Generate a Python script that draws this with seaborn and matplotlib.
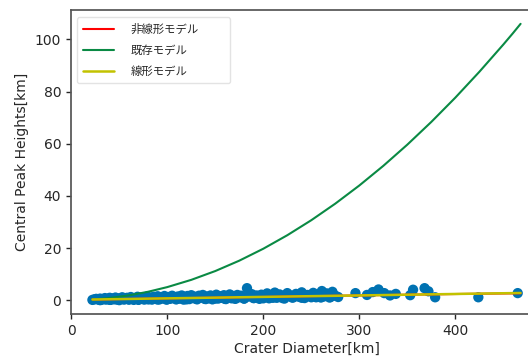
import matplotlib
matplotlib.use("Agg")
import matplotlib.pyplot as plt
import seaborn as sns
import pandas as pd

# Observed craters: diameter [km] and central peak height [km]
diameters = [22, 24, 26, 28, 30, 31, 33, 35, 36, 38, 40, 41, 43, 45, 46, 48, 50, 51, 53, 55,
             57, 58, 60, 62, 64, 65, 67, 69, 70, 72, 74, 76, 77, 79, 81, 83, 84, 86, 88, 90,
             92, 93, 95, 97, 99, 101, 103, 105, 107, 109, 111, 113, 115, 117, 119, 121, 123, 125,
             127, 129, 131, 133, 135, 137, 139, 141, 143, 145, 147, 149, 151, 153, 155, 157, 159,
             161, 163, 165, 167, 169, 171, 173, 175, 177, 180, 183, 185, 188, 190, 193, 196, 198,
             201, 204, 206, 209, 212, 214, 217, 220, 222, 225, 228, 231, 234, 237, 240, 243, 246,
             249, 252, 255, 258, 261, 263, 266, 269, 272, 275, 278,
             30, 40, 50, 60, 70, 80, 90, 100, 110, 120, 130, 140, 150, 160, 170, 180, 190, 200,
             210, 220, 230, 240, 250, 260, 270,
             296, 308, 314, 320, 326, 332, 338, 353, 356, 368, 372, 379, 424, 465]
heights = [0.1, 0.3, 0.5, 0.2, 0.6, 0.1, 0.4, 0.8, 0.2, 0.5, 0.9, 0.1, 0.6, 0.3, 1.0, 0.2, 0.7, 0.4, 1.1, 0.2,
           0.6, 0.9, 0.3, 1.2, 0.5, 0.1, 0.8, 1.3, 0.3, 0.7, 1.1, 0.2, 0.9, 1.4, 0.4, 1.0, 0.2, 1.3, 0.6, 1.5,
           0.3, 1.1, 0.7, 1.6, 0.2, 1.2, 0.5, 1.7, 0.9, 0.3, 1.4, 0.6, 1.8, 0.2, 1.1, 1.6, 0.4, 1.9,
           0.8, 1.3, 0.3, 1.7, 1.0, 2.0, 0.5, 1.4, 0.7, 1.8, 0.3, 1.2, 2.1, 0.6, 1.5, 0.9, 1.9,
           0.4, 1.3, 2.2, 0.7, 1.6, 0.5, 2.0, 1.1, 1.7, 0.6, 4.6, 1.4, 2.3, 0.8, 1.8, 0.5, 2.1,
           1.2, 2.6, 0.7, 1.6, 2.9, 0.9, 2.2, 1.4, 0.6, 2.7, 1.8, 1.0, 2.4, 1.3, 3.0, 0.8, 2.0,
           1.5, 2.8, 1.1, 2.3, 3.5, 1.4, 2.6, 1.0, 3.2, 1.7, 1.2,
           0.0, 0.1, 0.0, 0.2, 0.1, 0.3, 0.2, 0.3, 0.4, 0.3, 0.5, 0.4, 0.6, 0.5, 0.7, 0.6, 0.8, 0.7,
           0.9, 0.8, 1.0, 0.9, 1.1, 1.0, 1.2,
           2.7, 2.0, 3.1, 4.1, 2.7, 1.8, 2.4, 1.9, 4.0, 4.6, 3.4, 1.1, 1.1, 2.7]

# Fitted model curves, sampled along the diameter axis
model_d = [22, 40, 60, 80, 100, 125, 150, 175, 200, 225, 250, 275, 300, 325, 350,
           375, 400, 425, 450, 460, 468]
existing_h = [0.25, 0.82, 1.83, 3.22, 5.01, 7.79, 11.17, 15.15, 19.73, 24.91, 30.67,
              37.03, 43.98, 51.52, 59.65, 68.37, 77.68, 87.58, 98.05, 102.4, 106.0]
linear_h = [0.25, 0.35, 0.46, 0.58, 0.69, 0.83, 0.97, 1.11, 1.25, 1.39, 1.53, 1.67, 1.81,
            1.95, 2.09, 2.23, 2.37, 2.51, 2.65, 2.70, 2.75]
nonlinear_h = [0.25, 0.35, 0.46, 0.58, 0.69, 0.83, 0.97, 1.11, 1.25, 1.39, 1.53, 1.67, 1.81,
               1.95, 2.09, 2.22, 2.35, 2.46, 2.56, 2.60, 2.63]

sns.set_theme(style="ticks")
plt.rcParams["font.family"] = ["DejaVu Sans", "Noto Sans CJK JP"]

crater_df = pd.DataFrame({"D": diameters, "H": heights})
model_df = pd.DataFrame({"D": model_d, "nonlinear": nonlinear_h,
                         "existing": existing_h, "linear": linear_h})

fig = plt.figure(figsize=(5.28, 3.58), dpi=100)
ax = fig.add_axes([0.1345, 0.123, 0.892, 0.849])

sns.scatterplot(data=crater_df, x="D", y="H", ax=ax, color="#0072B2",
                s=55, edgecolor="none", linewidth=0, zorder=2)
sns.lineplot(data=model_df, x="D", y="nonlinear", ax=ax, color="#ff0000",
             linewidth=1.5, label="非線形モデル", zorder=3)
sns.lineplot(data=model_df, x="D", y="existing", ax=ax, color="#0a8a44",
             linewidth=1.5, label="既存モデル", zorder=3)
sns.lineplot(data=model_df, x="D", y="linear", ax=ax, color="#c2c200",
             linewidth=1.8, label="線形モデル", zorder=4)

ax.set_xlabel("Crater Diameter[km]", fontsize=10, color="#262626", labelpad=3)
ax.set_ylabel("Central Peak Heights[km]", fontsize=10, color="#262626")
ax.set_xticks([0, 100, 200, 300, 400])
ax.set_yticks([0, 20, 40, 60, 80, 100])
ax.tick_params(labelsize=10, colors="#262626", length=3.5, width=1)
for s in ax.spines.values():
    s.set_color("#555555")

# legend box spans a fixed width in the upper-left corner
leg = ax.legend(loc="upper left", bbox_to_anchor=(0.0, 0.995, 0.35, 0.0),
                mode="expand", handletextpad=1.5, handlelength=2.7,
                labelspacing=0.92, borderpad=0.55, borderaxespad=0.5,
                frameon=True, prop={"family": ["Noto Sans CJK JP"], "size": 8.2})
leg.get_frame().set_edgecolor("#dddddd")

fig.savefig("out.png", dpi=100)
